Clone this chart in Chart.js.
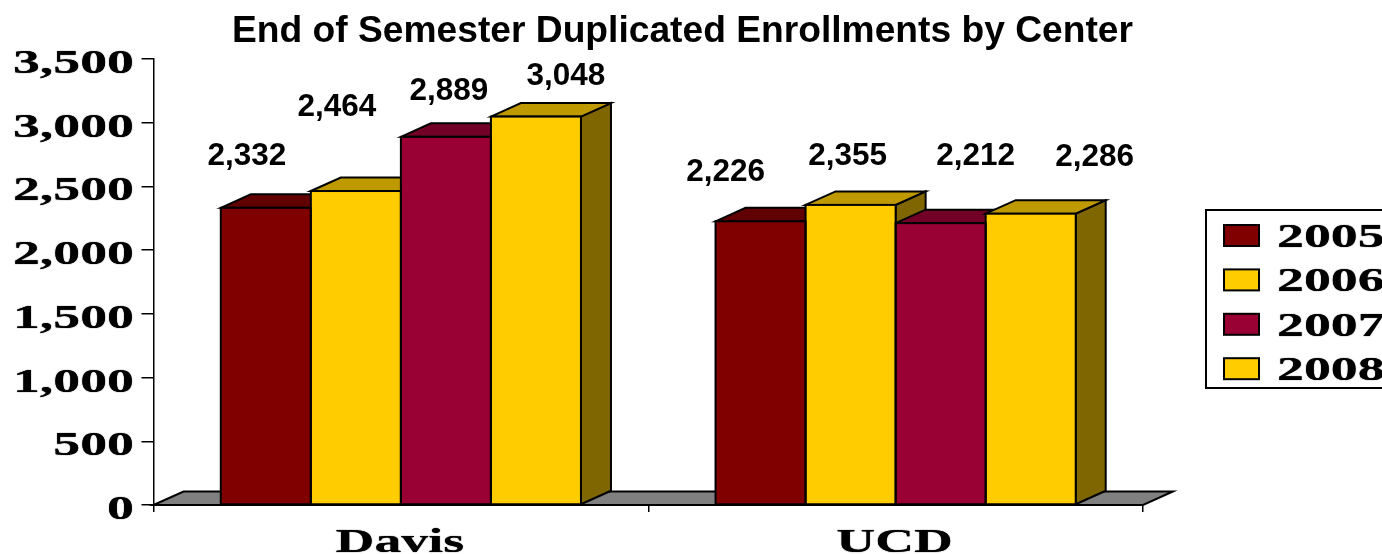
<!DOCTYPE html>
<html><head><meta charset="utf-8">
<style>html,body{margin:0;padding:0;background:#fff;overflow:hidden}canvas{display:block}</style>
<script src="https://cdn.jsdelivr.net/npm/chart.js@4"></script>
</head><body><canvas id="c" width="1382" height="554"></canvas>
<script>
const chartTitle = "End of Semester Duplicated Enrollments by Center";
const categories = ["Davis", "UCD"];
const years = ["2005", "2006", "2007", "2008"];
const values2005 = [2332, 2226];
const values2006 = [2464, 2355];
const values2007 = [2889, 2212];
const values2008 = [3048, 2286];
const seriesValues = [values2005, values2006, values2007, values2008];
const frontColors = ["#800000", "#FFCC00", "#990033", "#FFCC00"];
const topColors = ["#600000", "#BF9900", "#730026", "#BF9900"];
const sideColors = ["#400000", "#806600", "#4D001A", "#806600"];
// Hand-placed value labels of the original, relative to each bar's top centre
const labelShiftX = [[-19, -35], [-19, -3], [3, 35], [30, 64]];
const labelShiftY = [[54, 51], [86, 51], [48, 69], [43, 59]];

const DEPTH_X = 30, DEPTH_Y = 13.5, WIDE = 1.63;
const wideFont = 'bold 33px "Liberation Serif"';
const labelFont = 'bold 31.5px "Liberation Sans"';

function poly(ctx, pts, fill) {
  ctx.beginPath();
  pts.forEach((p, i) => i ? ctx.lineTo(p[0], p[1]) : ctx.moveTo(p[0], p[1]));
  ctx.closePath();
  ctx.fillStyle = fill;
  ctx.fill();
  ctx.lineWidth = 2;
  ctx.strokeStyle = "#000";
  ctx.lineJoin = "miter";
  ctx.stroke();
}
function wideText(ctx, text, x, y, align) {
  ctx.save();
  ctx.font = wideFont;
  ctx.fillStyle = "#000";
  ctx.textAlign = align;
  ctx.textBaseline = "alphabetic";
  ctx.shadowColor = "#000";
  ctx.shadowBlur = 1;
  ctx.translate(x, y);
  ctx.scale(WIDE, 1);
  ctx.fillText(text, 0, 0);
  ctx.restore();
}

const threeD = {
  id: "threeD",
  beforeDatasetsDraw(chart) {
    const ctx = chart.ctx, xs = chart.scales.x, ys = chart.scales.y;
    const y0 = ys.getPixelForValue(0);
    ctx.save();
    poly(ctx, [[xs.left, y0], [xs.left + DEPTH_X, y0 - DEPTH_Y], [xs.right + DEPTH_X, y0 - DEPTH_Y], [xs.right, y0]], "#808080");
    categories.forEach((_, c) => {
      years.forEach((_, s) => {
        const b = chart.getDatasetMeta(s).data[c];
        const l = b.x - b.width / 2, r = b.x + b.width / 2, t = b.y, g = b.base;
        poly(ctx, [[r, g], [r + DEPTH_X, g - DEPTH_Y], [r + DEPTH_X, t - DEPTH_Y], [r, t]], sideColors[s]);
        poly(ctx, [[l, t], [l + DEPTH_X, t - DEPTH_Y], [r + DEPTH_X, t - DEPTH_Y], [r, t]], topColors[s]);
      });
    });
    ctx.restore();
  },
  afterDatasetsDraw(chart) {
    const ctx = chart.ctx, xs = chart.scales.x, ys = chart.scales.y;
    ctx.save();
    // front-face outlines, centred on each bar's edge
    ctx.strokeStyle = "#000";
    ctx.lineWidth = 2;
    years.forEach((_, s) => {
      categories.forEach((_, c) => {
        const b = chart.getDatasetMeta(s).data[c];
        ctx.strokeRect(b.x - b.width / 2, b.y, b.width, b.base - b.y);
      });
    });
    // title
    ctx.font = 'bold 37.2px "Liberation Sans"';
    ctx.fillStyle = "#000";
    ctx.textAlign = "center";
    ctx.textBaseline = "alphabetic";
    ctx.fillText(chartTitle, 682.5, 42);
    // value labels
    ctx.font = labelFont;
    years.forEach((_, s) => {
      categories.forEach((_, c) => {
        const b = chart.getDatasetMeta(s).data[c];
        ctx.fillText(seriesValues[s][c].toLocaleString("en-US"),
          b.x + labelShiftX[s][c], b.y - labelShiftY[s][c] + 11);
      });
    });
    // axis labels
    ys.ticks.forEach((t, i) => {
      wideText(ctx, t.label, 134, ys.getPixelForTick(i) + 14, "right");
    });
    xs.ticks.forEach((t, i) => {
      wideText(ctx, t.label, xs.getPixelForTick(i) - 1, 552, "center");
    });
    // legend
    ctx.fillStyle = "#fff";
    ctx.strokeStyle = "#000";
    ctx.lineWidth = 2;
    ctx.fillRect(1206, 210, 190, 178);
    ctx.strokeRect(1206, 210, 190, 178);
    years.forEach((y, s) => {
      const top = 225 + s * 44.4;
      ctx.fillStyle = frontColors[s];
      ctx.fillRect(1224, top, 35, 21);
      ctx.strokeRect(1224, top, 35, 21);
      wideText(ctx, y, 1277, top + 22, "left");
    });
    ctx.restore();
  }
};

new Chart(document.getElementById("c"), {
  type: "bar",
  data: {
    labels: categories,
    datasets: years.map((y, s) => ({
      label: y,
      data: seriesValues[s],
      backgroundColor: frontColors[s],
      borderWidth: 0,
      barPercentage: 1,
      categoryPercentage: 0.728
    }))
  },
  options: {
    responsive: false,
    animation: false,
    events: [],
    layout: { padding: { top: 59, right: 239, left: 0, bottom: 0 } },
    plugins: { legend: { display: false }, title: { display: false }, tooltip: { enabled: false } },
    scales: {
      x: {
        afterFit(s) { s.height = 49; },
        ticks: { display: false },
        grid: { drawOnChartArea: false, offset: true, tickLength: 7, color: "#000", lineWidth: 1.5 },
        border: { color: "#000", width: 1.5 }
      },
      y: {
        min: 0, max: 3500,
        afterFit(s) { s.width = 153.5; },
        ticks: { display: false, stepSize: 500, callback: v => v.toLocaleString("en-US") },
        grid: { drawOnChartArea: false, tickLength: 12, color: "#000", lineWidth: 1.5 },
        border: { color: "#000", width: 1.5 }
      }
    }
  },
  plugins: [threeD]
});
</script></body></html>
